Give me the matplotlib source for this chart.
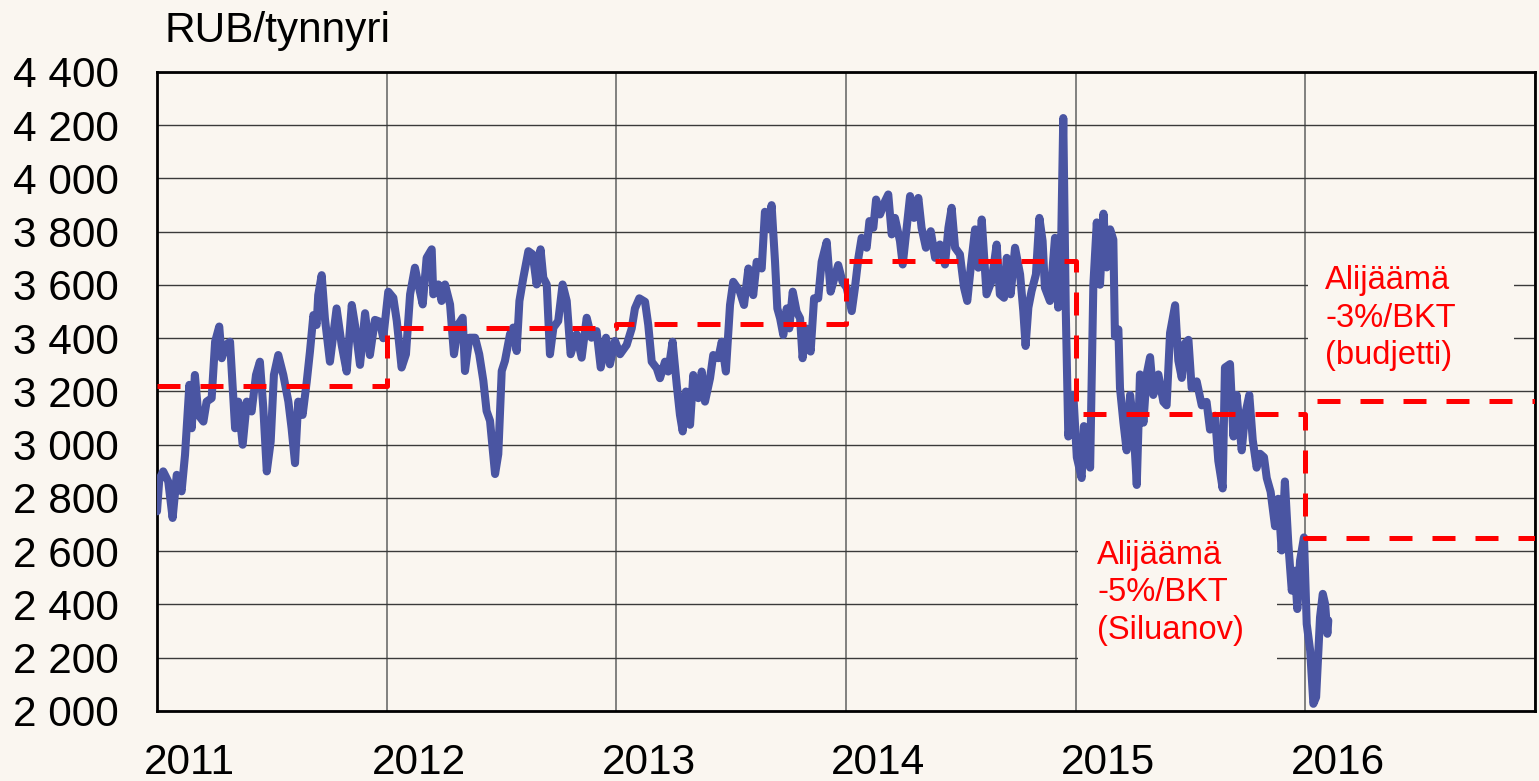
import matplotlib
matplotlib.use('Agg')
import matplotlib.pyplot as plt
from matplotlib.ticker import FixedLocator, FuncFormatter, NullFormatter, FixedFormatter
from matplotlib.patches import Rectangle

plt.rcParams['font.family'] = ['Liberation Sans', 'DejaVu Sans']

# ---- data ----
years = [2011, 2012, 2013, 2014, 2015, 2016]
year_labels = ['2011', '2012', '2013', '2014', '2015', '2016']
y_ticks = [2000, 2200, 2400, 2600, 2800, 3000, 3200, 3400, 3600, 3800, 4000, 4200, 4400]

# Urals oil price in roubles per barrel (decimal year, RUB)
t = [2011.000, 2011.010, 2011.027, 2011.049, 2011.068, 2011.086, 2011.107, 2011.122, 2011.141, 2011.151,
     2011.165, 2011.180, 2011.202, 2011.216, 2011.238, 2011.253, 2011.271, 2011.282, 2011.300, 2011.318,
     2011.340, 2011.354, 2011.373, 2011.391, 2011.412, 2011.431, 2011.448, 2011.463, 2011.478, 2011.495,
     2011.509, 2011.528, 2011.550, 2011.572, 2011.586, 2011.601, 2011.615, 2011.634, 2011.652, 2011.666,
     2011.681, 2011.695, 2011.702, 2011.717, 2011.731, 2011.753, 2011.782, 2011.804, 2011.826, 2011.848,
     2011.862, 2011.884, 2011.906, 2011.927, 2011.949, 2011.971, 2011.985, 2012.007,
     2012.029, 2012.044, 2012.065, 2012.084, 2012.102, 2012.123, 2012.138, 2012.157, 2012.174, 2012.196,
     2012.203, 2012.225, 2012.239, 2012.254, 2012.276, 2012.293, 2012.312, 2012.331, 2012.341, 2012.360,
     2012.385, 2012.403, 2012.421, 2012.435, 2012.450, 2012.464, 2012.472, 2012.486, 2012.501, 2012.515,
     2012.537, 2012.551, 2012.566, 2012.578, 2012.595, 2012.617, 2012.636, 2012.653, 2012.670, 2012.682,
     2012.697, 2012.711, 2012.726, 2012.747, 2012.766, 2012.784, 2012.801, 2012.827, 2012.849, 2012.871,
     2012.892, 2012.914, 2012.932, 2012.955, 2012.972, 2012.994, 2013.016,
     2013.045, 2013.067, 2013.081, 2013.100, 2013.125, 2013.139, 2013.154, 2013.176, 2013.190, 2013.212,
     2013.226, 2013.245, 2013.263, 2013.277, 2013.289, 2013.303, 2013.321, 2013.335, 2013.357, 2013.372,
     2013.386, 2013.408, 2013.422, 2013.444, 2013.459, 2013.477, 2013.495, 2013.509, 2013.538, 2013.556,
     2013.575, 2013.596, 2013.611, 2013.633, 2013.647, 2013.662, 2013.676, 2013.691, 2013.701, 2013.713,
     2013.727, 2013.742, 2013.753, 2013.768, 2013.785, 2013.800, 2013.811, 2013.826, 2013.846, 2013.861,
     2013.879, 2013.894, 2013.916, 2013.933, 2013.945, 2013.966, 2013.985,
     2014.003, 2014.025, 2014.039, 2014.054, 2014.068, 2014.090, 2014.102, 2014.119, 2014.131, 2014.148,
     2014.170, 2014.184, 2014.199, 2014.213, 2014.235, 2014.247, 2014.264, 2014.279, 2014.296, 2014.315,
     2014.329, 2014.348, 2014.369, 2014.388, 2014.409, 2014.431, 2014.446, 2014.460, 2014.475, 2014.496,
     2014.514, 2014.528, 2014.543, 2014.562, 2014.576, 2014.591, 2014.612, 2014.634, 2014.656, 2014.670,
     2014.688, 2014.700, 2014.717, 2014.736, 2014.758, 2014.772, 2014.782, 2014.794, 2014.808, 2014.827,
     2014.842, 2014.856, 2014.866, 2014.888, 2014.910, 2014.924, 2014.935, 2014.946, 2014.957,
     2014.968, 2014.990, 2015.005, 2015.026, 2015.036, 2015.048, 2015.063, 2015.077, 2015.092, 2015.106,
     2015.121, 2015.135, 2015.150, 2015.164, 2015.171, 2015.186, 2015.193, 2015.208, 2015.222, 2015.237,
     2015.251, 2015.266, 2015.280, 2015.295, 2015.309, 2015.324, 2015.338, 2015.360, 2015.382, 2015.396,
     2015.411, 2015.433, 2015.447, 2015.462, 2015.476, 2015.491, 2015.505, 2015.527, 2015.549, 2015.570,
     2015.585, 2015.607, 2015.621, 2015.640, 2015.650, 2015.672, 2015.687, 2015.701, 2015.723, 2015.737,
     2015.756, 2015.771, 2015.788, 2015.803, 2015.820, 2015.832, 2015.849, 2015.868, 2015.882, 2015.897,
     2015.911, 2015.926, 2015.941, 2015.955, 2015.965, 2015.977, 2015.994, 2016.006, 2016.021, 2016.035,
     2016.047, 2016.057, 2016.064, 2016.076, 2016.086, 2016.096, 2016.100]
rub = [2750, 2870, 2900, 2862, 2725, 2887, 2825, 2962, 3225, 3062,
       3262, 3112, 3087, 3162, 3175, 3387, 3444, 3325, 3375, 3387,
       3062, 3162, 3000, 3162, 3125, 3262, 3312, 3137, 2900, 3012,
       3262, 3337, 3262, 3162, 3062, 2931, 3162, 3112, 3237, 3350,
       3487, 3450, 3562, 3637, 3475, 3312, 3512, 3375, 3275, 3525,
       3450, 3300, 3494, 3337, 3469, 3462, 3400, 3575,
       3552, 3465, 3290, 3340, 3565, 3665, 3602, 3527, 3702, 3734,
       3565, 3602, 3540, 3602, 3527, 3340, 3452, 3477, 3277, 3402,
       3402, 3340, 3240, 3127, 3090, 2965, 2890, 2965, 3277, 3315,
       3415, 3440, 3352, 3540, 3627, 3727, 3715, 3602, 3734, 3627,
       3602, 3340, 3440, 3465, 3602, 3540, 3340, 3415, 3327, 3477,
       3402, 3427, 3290, 3402, 3302, 3390, 3340,
       3375, 3437, 3512, 3550, 3537, 3450, 3312, 3287, 3250, 3312,
       3275, 3387, 3225, 3112, 3050, 3200, 3075, 3262, 3175, 3275,
       3162, 3250, 3337, 3325, 3387, 3275, 3525, 3612, 3575, 3525,
       3662, 3562, 3687, 3662, 3875, 3812, 3900, 3687, 3512, 3475,
       3412, 3512, 3437, 3575, 3500, 3475, 3325, 3437, 3350, 3550,
       3550, 3687, 3762, 3575, 3612, 3675, 3612,
       3590, 3502, 3590, 3702, 3777, 3740, 3840, 3815, 3921, 3865,
       3915, 3940, 3790, 3852, 3765, 3677, 3815, 3934, 3852, 3927,
       3815, 3740, 3802, 3702, 3752, 3677, 3815, 3890, 3740, 3715,
       3590, 3540, 3665, 3809, 3665, 3846, 3565, 3615, 3752, 3565,
       3552, 3702, 3565, 3740, 3640, 3502, 3371, 3515, 3577, 3640,
       3852, 3765, 3590, 3540, 3777, 3515, 3665, 4227, 3500,
       3031, 3187, 2953, 2875, 3070, 2979, 2914, 3601, 3835, 3601,
       3868, 3666, 3809, 3770, 3407, 3433, 3213, 3083, 2979, 3187,
       3083, 2849, 3264, 3083, 3264, 3329, 3187, 3264, 3161, 3148,
       3420, 3524, 3316, 3251, 3381, 3394, 3213, 3238, 3148, 3161,
       3057, 3109, 2940, 2836, 3290, 3303, 3031, 3187, 2979, 3109,
       3187, 3018, 2914, 2966, 2953, 2875, 2823, 2694, 2797, 2603,
       2862, 2627, 2452, 2527, 2383, 2565, 2652, 2327, 2227, 2027,
       2052, 2227, 2352, 2440, 2402, 2290, 2340]

# budget break-even price, deficit -5% of GDP (Siluanov)
deficit5_years = [2011, 2012, 2013, 2014, 2015, 2016, 2017]
deficit5 = [3220, 3440, 3455, 3690, 3115, 2650, 2650]
# deficit -3% of GDP (budget)
deficit3_years = [2016.05, 2017]
deficit3 = [3166, 3166]

BG = '#FAF6F0'
BLUE = '#4A55A2'
RED = '#FF0000'

fig = plt.figure(figsize=(15.39, 7.81), dpi=100, facecolor=BG)
ax = fig.add_axes([157 / 1539, 1 - 711 / 781, (1535 - 157) / 1539, (711 - 72) / 781])
ax.set_facecolor(BG)
ax.set_xlim(2011, 2017)
ax.set_ylim(2000, 4400)

ax.yaxis.set_major_locator(FixedLocator(y_ticks))
ax.yaxis.set_major_formatter(FuncFormatter(lambda v, p: f'{int(v):,}'.replace(',', ' ')))
ax.xaxis.set_major_locator(FixedLocator(years + [2017]))
ax.xaxis.set_major_formatter(NullFormatter())
ax.xaxis.set_minor_locator(FixedLocator([y + 0.14 for y in years]))
ax.xaxis.set_minor_formatter(FixedFormatter(year_labels))
ax.tick_params(axis='x', which='both', length=0)
ax.tick_params(axis='x', which='minor', pad=23, labelsize=30.5)
ax.tick_params(axis='y', length=0, pad=27.5, labelsize=30.5)

ax.set_axisbelow(True)
ax.grid(axis='y', color='#3a3a3a', lw=1.0)
ax.grid(axis='x', which='major', color='#606060', lw=1.1)
for s in ax.spines.values():
    s.set_linewidth(2)
    s.set_color('black')

# label backgrounds (hide grid behind notes)
ax.add_patch(Rectangle((2015.01, 2080), 0.867, 635, facecolor=BG, edgecolor='none', zorder=1))
ax.add_patch(Rectangle((2016.01, 3280), 0.90, 455, facecolor=BG, edgecolor='none', zorder=1))

ax.plot(t, rub, color=BLUE, lw=5.8, solid_joinstyle='round', solid_capstyle='round', zorder=3)

l1, = ax.plot(deficit5_years, deficit5, drawstyle='steps-post', color=RED, lw=3.6, zorder=4)
l1.set_dashes((4.6, 4.0))
l2, = ax.plot(deficit3_years, deficit3, color=RED, lw=3.6, zorder=4)
l2.set_dashes((4.6, 4.0))

ax.text(2015.093, 2643, 'Alijäämä\n-5%/BKT\n(Siluanov)', color=RED, fontsize=23.5,
        va='top', ha='left', linespacing=1.27, zorder=5)
ax.text(2016.086, 3675, 'Alijäämä\n-3%/BKT\n(budjetti)', color=RED, fontsize=23.5,
        va='top', ha='left', linespacing=1.27, zorder=5)

fig.text(165 / 1539, 1 - 42 / 781, 'RUB/tynnyri', fontsize=30.5, va='baseline', ha='left')

fig.savefig('out.png', dpi=100, facecolor=BG)
